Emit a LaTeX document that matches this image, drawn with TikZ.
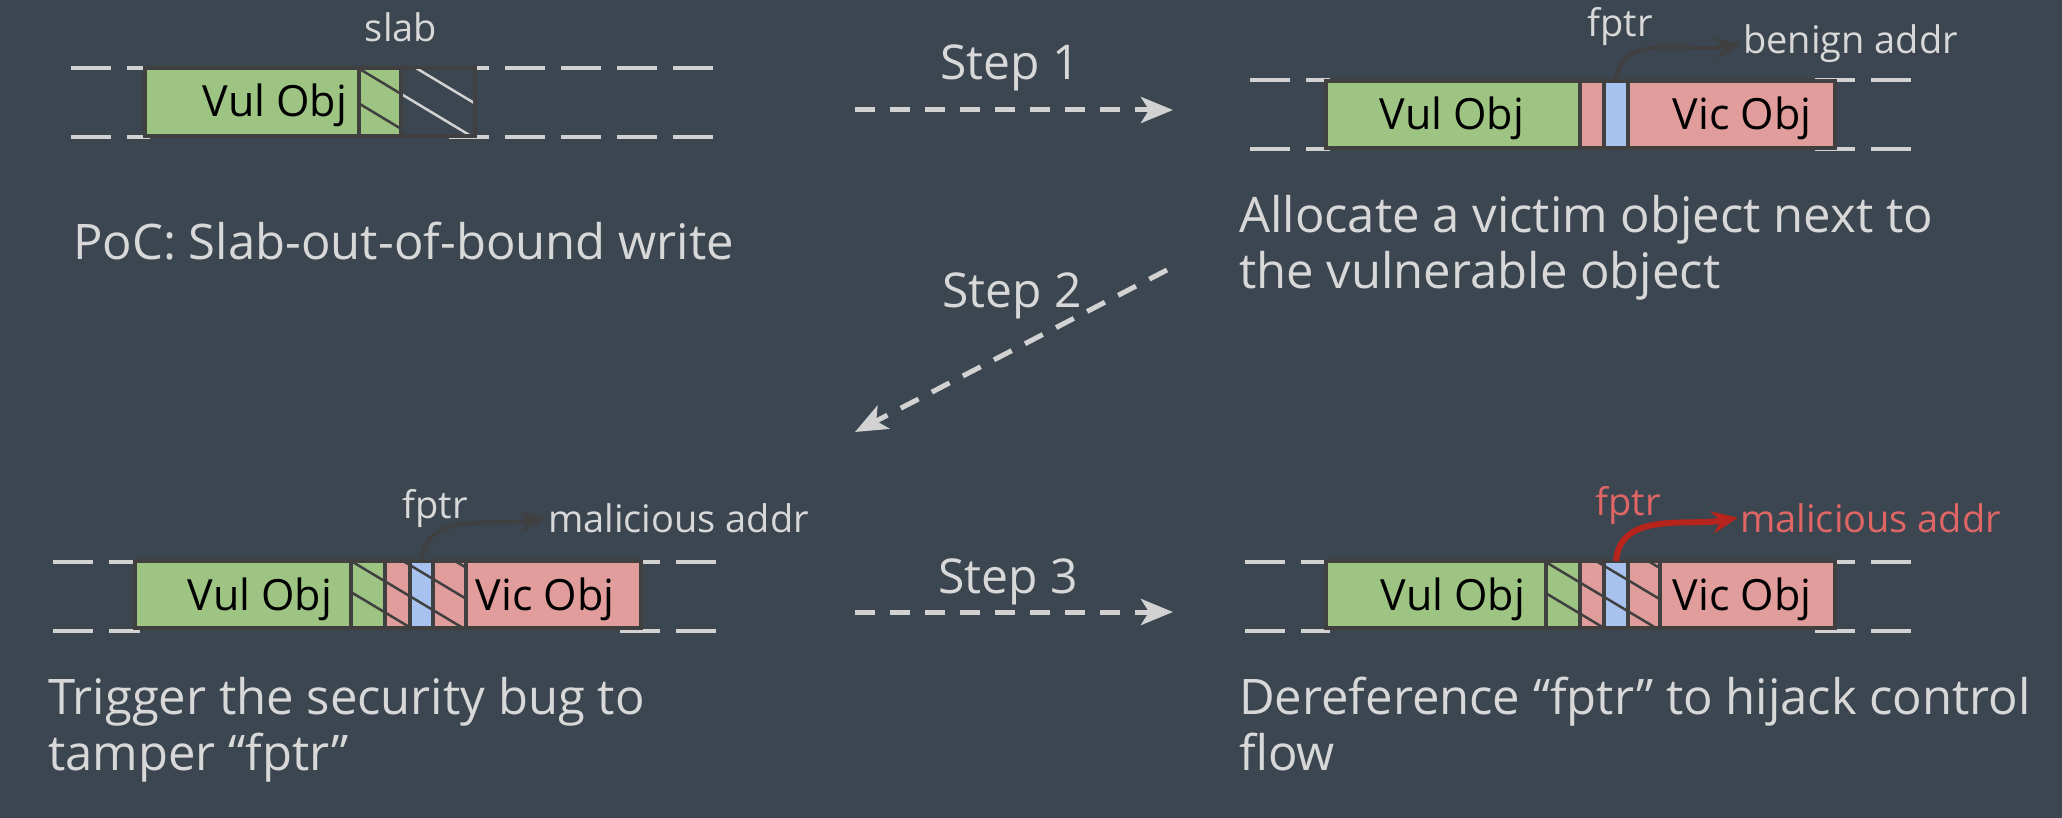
\documentclass[tikz,border=0pt]{standalone}
\usepackage{fontspec}
\setmainfont{Open Sans}
\usetikzlibrary{arrows.meta}
\definecolor{slatebg}{RGB}{59,70,80}
\definecolor{edgegray}{RGB}{64,64,64}
\definecolor{vulgreen}{RGB}{158,196,131}
\definecolor{vicpink}{RGB}{224,157,155}
\definecolor{fptrblue}{RGB}{168,194,239}
\definecolor{dashgray}{RGB}{210,210,210}
\definecolor{paletext}{RGB}{216,216,216}
\definecolor{alertred}{RGB}{224,102,102}
\definecolor{arrowred}{RGB}{183,36,28}
\begin{document}
\begin{tikzpicture}[
        x=1pt, y=-1pt,
        memline/.style={draw=dashgray, line width=4.5pt, dash pattern=on 40pt off 16pt},
        piece/.style={draw=edgegray, line width=4pt, inner sep=0pt, outer sep=0pt, anchor=north west},
        hatch/.style={draw=edgegray, line width=2.5pt},
        hatchlight/.style={draw=dashgray, line width=2.5pt},
        objtext/.style={font=\fontsize{43}{50}\selectfont, text=black, anchor=base, inner sep=0pt},
        tag/.style={font=\fontsize{38}{44}\selectfont, text=paletext, inner sep=2pt},
        steptext/.style={font=\fontsize{48}{56}\selectfont, text=paletext, anchor=base, inner sep=0pt},
        captext/.style={font=\fontsize{49}{56}\selectfont, text=paletext, align=left, anchor=base west, inner sep=0pt},
        ptrarrow/.style={draw=edgegray, line width=4pt, -{Stealth[length=26pt,width=22pt]}},
        steparrow/.style={draw=dashgray, line width=5pt, dash pattern=on 20pt off 15pt,
            -{Stealth[length=32pt,width=26pt,inset=8pt]}},
    ]
    \useasboundingbox (0,0) rectangle (2062,818);
    \fill[slatebg] (0,0) rectangle (2062,818);

    % slab lines
    \foreach \y in {68,137} {
        \draw[memline] (71,\y) -- (150,\y);
        \draw[memline] (449,\y) -- (715,\y);
    }
    \foreach \y in {80,149} {
        \draw[memline] (1250,\y) -- (1330,\y);
        \draw[memline] (1815,\y) -- (1911,\y);
    }
    \foreach \y in {562,631} {
        \draw[memline] (53,\y) -- (140,\y);
        \draw[memline] (620,\y) -- (716,\y);
        \draw[memline] (1245,\y) -- (1330,\y);
        \draw[memline] (1815,\y) -- (1911,\y);
    }

    % PoC
    \node[piece, fill=vulgreen, minimum width=214pt, minimum height=68pt] (vul1) at (145,68) {};
    \node[piece, fill=vulgreen, minimum width=42pt, minimum height=68pt] (hatg1) at (359,68) {};
    \node[piece, minimum width=74pt, minimum height=68pt] (free1) at (401,68) {};
    \begin{scope}
        \clip (hatg1.north west) rectangle (hatg1.south east);
        \foreach \k in {0,1,2}
            \draw[hatch] (300+58*\k,68) -- ++(113,68);
    \end{scope}
    \begin{scope}
        \clip (403,70) rectangle (473,134);
        \foreach \k in {1,2}
            \draw[hatchlight] (300+58*\k,68) -- ++(113,68);
    \end{scope}
    \node[objtext] (vultxt1) at (275,117) {Vul Obj};

    % step 1 result
    \node[piece, fill=vulgreen, minimum width=254pt, minimum height=67pt] (vul2) at (1326,81) {};
    \node[piece, fill=vicpink, minimum width=24pt, minimum height=67pt] (pad2) at (1580,81) {};
    \node[piece, fill=fptrblue, minimum width=24pt, minimum height=67pt] (fptr2) at (1604,81) {};
    \node[piece, fill=vicpink, minimum width=207pt, minimum height=67pt] (vic2) at (1628,81) {};
    \node[objtext] (vultxt2) at (1452,130) {Vul Obj};
    \node[objtext] (victxt2) at (1742,130) {Vic Obj};

    % step 2 result
    \node[piece, fill=vulgreen, minimum width=216pt, minimum height=67pt] (vul3) at (135,561) {};
    \node[piece, fill=vulgreen, minimum width=34pt, minimum height=67pt] (hatg3) at (351,561) {};
    \node[piece, fill=vicpink, minimum width=25pt, minimum height=67pt] (padA3) at (385,561) {};
    \node[piece, fill=fptrblue, minimum width=23pt, minimum height=67pt] (fptr3) at (410,561) {};
    \node[piece, fill=vicpink, minimum width=33pt, minimum height=67pt] (padB3) at (433,561) {};
    \node[piece, fill=vicpink, minimum width=175pt, minimum height=67pt] (vic3) at (466,561) {};
    \begin{scope}
        \clip (hatg3.north west) rectangle (padB3.south east);
        \foreach \k in {0,...,3}
            \draw[hatch] (299+52*\k,561) -- ++(112,67);
    \end{scope}
    \node[objtext] (vultxt3) at (260,610) {Vul Obj};
    \node[objtext] (victxt3) at (545,610) {Vic Obj};

    % step 3 result
    \node[piece, fill=vulgreen, minimum width=220pt, minimum height=67pt] (vul4) at (1326,561) {};
    \node[piece, fill=vulgreen, minimum width=34pt, minimum height=67pt] (hatg4) at (1546,561) {};
    \node[piece, fill=vicpink, minimum width=24pt, minimum height=67pt] (padA4) at (1580,561) {};
    \node[piece, fill=fptrblue, minimum width=24pt, minimum height=67pt] (fptr4) at (1604,561) {};
    \node[piece, fill=vicpink, minimum width=32pt, minimum height=67pt] (padB4) at (1628,561) {};
    \node[piece, fill=vicpink, minimum width=175pt, minimum height=67pt] (vic4) at (1660,561) {};
    \begin{scope}
        \clip (hatg4.north west) rectangle (padB4.south east);
        \foreach \k in {0,...,3}
            \draw[hatch] (1492+52*\k,561) -- ++(112,67);
    \end{scope}
    \node[objtext] (vultxt4) at (1453,610) {Vul Obj};
    \node[objtext] (victxt4) at (1742,610) {Vic Obj};

    % labels and pointers
    \node[tag, anchor=base] (slab) at (401,42) {slab};
    \node[tag, anchor=base] (fptrlab2) at (1620,37) {fptr};
    \node[tag, anchor=base west] (benign) at (1741,54) {benign addr};
    \node[tag, anchor=base] (fptrlab3) at (435,518) {fptr};
    \node[tag, anchor=base west] (mal3) at (546,532) {malicious addr};
    \node[tag, anchor=base, text=alertred] (fptrlab4) at (1628,515) {fptr};
    \node[tag, anchor=base west, text=alertred] (mal4) at (1738,532) {malicious addr};
    \draw[ptrarrow] (fptr2.north) to[out=85,in=190] (benign.west);
    \draw[ptrarrow] (fptr3.north) to[out=85,in=190] (mal3.west);
    \draw[ptrarrow, draw=arrowred, line width=6pt] (fptr4.north) to[out=85,in=190] (mal4.west);

    % steps
    \coordinate (s1from) at (855,110);
    \coordinate (s1to) at (1173,110);
    \coordinate (s2from) at (1167,270);
    \coordinate (s2to) at (855,432);
    \coordinate (s3from) at (855,612);
    \coordinate (s3to) at (1173,612);
    \draw[steparrow] (s1from) -- (s1to);
    \draw[steparrow] (s2from) -- (s2to);
    \draw[steparrow] (s3from) -- (s3to);
    \node[steptext] (step1) at (1010,80) {Step 1};
    \node[steptext] (step2) at (1012,308) {Step 2};
    \node[steptext] (step3) at (1008,593) {Step 3};

    % captions
    \node[captext] (cap1) at (73,260) {PoC: Slab-out-of-bound write};
    \node[captext] (cap2) at (1239,289) {Allocate a victim object next to\\the vulnerable object};
    \node[captext] (cap3) at (48,770) {Trigger the security bug to\\tamper “fptr”};
    \node[captext] (cap4) at (1239,770) {Dereference “fptr” to hijack control\\flow};
\end{tikzpicture}
\end{document}
